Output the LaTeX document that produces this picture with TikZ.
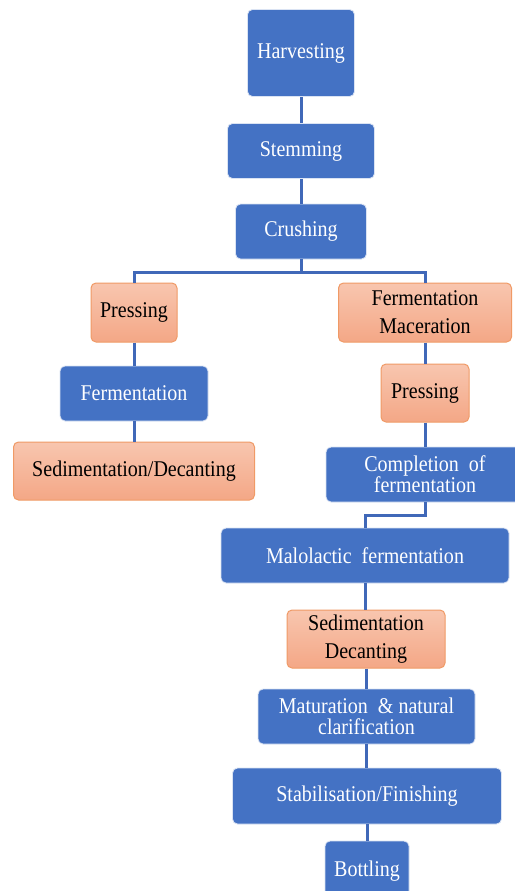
\documentclass[tikz,border=0pt]{standalone}
\usepackage{fontspec}
\setmainfont{Liberation Serif}[FakeStretch=0.89]
\usetikzlibrary{arrows}
\definecolor{stepblue}{HTML}{4472C4}
\definecolor{linkblue}{HTML}{4068B8}
\definecolor{peachtop}{HTML}{F8C6AF}
\definecolor{peachbot}{HTML}{F4A786}
\definecolor{peachline}{HTML}{F09A66}

\begin{document}
\begin{tikzpicture}[x=1pt,y=-1pt,
	bluebox/.style={draw=white!80!stepblue, fill=stepblue, text=white, rounded corners=5pt, line width=0.8pt, align=center, inner sep=0pt, font=\fontsize{22.5}{21}\selectfont},
	peachbox/.style={draw=peachline, top color=peachtop, bottom color=peachbot, text=black, rounded corners=5pt, line width=1pt, align=center, inner sep=0pt, font=\fontsize{22.5}{28}\selectfont},
	link/.style={draw=linkblue, line width=3pt}]
		\useasboundingbox [fill=white] (0,0) rectangle (514,891);
		%\draw [help lines] (0,0) grid (514,891);
		% main stem
		\node [bluebox, minimum width=107pt, minimum height=87pt] (harv) at (301,53) {Harvesting};
		\node [bluebox, minimum width=147pt, minimum height=55pt] (stem) at (301,151) {Stemming};
		\node [bluebox, minimum width=131pt, minimum height=55pt] (crush) at (301,231.5) {Crushing};
		% left branch
		\node [peachbox, minimum width=86pt, minimum height=59pt] (pressL) at (134,312.5) {Pressing};
		\node [bluebox, minimum width=148pt, minimum height=55pt] (fermL) at (134,393.5) {Fermentation};
		\node [peachbox, minimum width=241pt, minimum height=58pt] (sedL) at (134,471) {Sedimentation/Decanting};
		% right branch
		\node [peachbox, minimum width=173pt, minimum height=59pt] (fermmac) at (425,312.5) {Fermentation\\Maceration};
		\node [peachbox, minimum width=88pt, minimum height=58pt] (pressR) at (425,393) {Pressing};
		\node [bluebox, minimum width=198pt, minimum height=55pt] (compl) at (425,474.5) {Completion\ \ of\\fermentation};
		\node [bluebox, minimum width=288pt, minimum height=55pt] (malo) at (365,555.5) {Malolactic\ \ fermentation};
		\node [peachbox, minimum width=158pt, minimum height=58pt] (sedR) at (366,639) {Sedimentation\\Decanting};
		\node [bluebox, minimum width=217pt, minimum height=55pt] (matur) at (366.5,716.5) {Maturation\ \ \&\ natural\\clarification};
		\node [bluebox, minimum width=269pt, minimum height=56pt] (stab) at (367,796) {Stabilisation/Finishing};
		\node [bluebox, minimum width=84pt, minimum height=60pt] (bottl) at (367,871) {Bottling};
		% connectors
		\draw [link] (harv) -- (stem);
		\draw [link] (stem) -- (crush);
		\draw [link] (crush.south) -- ++(0,13) -| (pressL.north);
		\draw [link] (crush.south) -- ++(0,13) -| (fermmac.north);
		\draw [link] (pressL) -- (fermL);
		\draw [link] (fermL) -- (sedL);
		\draw [link] (fermmac) -- (pressR);
		\draw [link] (pressR) -- (compl);
		\draw [link] (compl.south) -- ++(0,13) -| (malo.north);
		\draw [link] (malo.south) -- (malo.south |- sedR.north);
		\draw [link] (sedR.south) -- (sedR.south |- matur.north);
		\draw [link] (matur.south) -- (matur.south |- stab.north);
		\draw [link] (stab.south) -- (stab.south |- bottl.north);
	\end{tikzpicture}
\end{document}
